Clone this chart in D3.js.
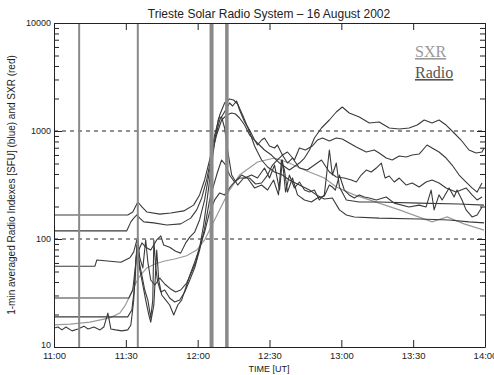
<!DOCTYPE html>
<html><head><meta charset="utf-8">
<script src="https://cdn.jsdelivr.net/npm/d3@7"></script>
<style>
html,body{margin:0;padding:0;background:#fff;}
svg{display:block;}
</style></head>
<body>
<svg id="chart" width="494" height="375"></svg>
<script>
// ---- DATA (time = minutes after 11:00 UT, value in SFU) ----
const title = "Trieste Solar Radio System \u2013 16 August 2002";
const yLabel = "1-min averaged Radio Indexes [SFU] (blue) and SXR (red)";
const xLabel = "TIME [UT]";
const yTickLabels = [10, 100, 1000, 10000];
const xTickLabels = ["11:00","11:30","12:00","12:30","13:00","13:30","14:00"];
const dashedLevels = [100, 1000];
const markerTimes = [10.5, 35, 65.8, 72.2];
const markerWidths = [2, 2, 4, 3.5];

const radio1 = [[0,167],[30.8,167],[32.9,178],[35,220],[36.7,198],[38.75,178],[44.2,170],[48.75,174],[54.2,182],[58.3,206],[60.8,256],[62.9,352],[65,539],[67.1,918],[69.2,1406],[71.25,1816],[73.3,1979],[75,1936],[76.7,1778],[78.75,1406],[81.7,979],[83.75,726],[86.7,539],[89.2,464],[92.1,417],[95.4,391],[98.3,352],[102.5,316],[106.7,284],[109.6,256],[112.9,235],[116.25,240],[119.2,186],[122.1,167],[125.4,160],[135.8,156],[152.5,153],[165,150],[173.3,144],[179.6,141]];
const radio2 = [[0,119],[30.4,119],[32.1,144],[33.3,156],[34.6,167],[35.8,156],[37.5,144],[41.7,141],[47.1,135],[52.9,138],[57.1,156],[59.6,186],[61.7,240],[63.75,352],[65.8,599],[67.9,918],[70,1264],[72.1,1406],[74.2,1468],[75.8,1437],[77.5,1319],[79.6,1136],[81.7,918],[83.75,825],[85.8,742],[87.9,667],[90.8,599],[94.2,505],[98.3,435],[102.5,505],[104.6,562],[106.7,667],[108.75,861],[111.7,1066],[115,1264],[117.9,1499],[120.4,1668],[123.3,1468],[127.5,1348],[131.7,1186],[135.8,1212],[140,1066],[144.2,1043],[148.3,1066],[151.7,1136],[154.6,1264],[157.9,1186],[160.8,1264],[163.75,1136],[167.1,958],[170,825],[173.3,667],[176.25,626],[178.75,639],[179.6,696]];
const radio3 = [[0,56],[17.1,56],[17.9,64],[27.9,61],[31.7,67],[33.3,76],[34.6,98],[35.4,79],[36.7,92],[38.3,84],[40.4,79],[42.9,98],[44.6,107],[45.8,88],[48.3,84],[50.8,77],[52.9,74],[55,92],[56.7,104],[58.75,116],[60.8,150],[62.9,230],[65,435],[67.1,825],[69.2,1264],[71.7,1565],[73.3,1816],[74.6,1704],[76.25,1896],[77.5,1565],[79.6,1212],[81.7,1022],[83.75,825],[85,742],[86.7,825],[87.9,861],[90,726],[92.1,696],[93.3,742],[95.4,599],[97.5,639],[100.4,539],[102.5,696],[105,667],[107.9,726],[110,825],[112.1,861],[115,808],[117.9,861],[120.4,843],[123.3,774],[126.25,711],[130.4,639],[133.75,667],[135.8,626],[138.75,562],[141.25,539],[144.2,587],[147.1,574],[149.6,599],[152.5,612],[155.8,742],[157.9,696],[160.8,639],[163.75,562],[166.25,484],[169.2,391],[172.1,337],[174.6,297],[176.7,272],[178.75,330]];
const radio4 = [[0,28.4],[31.25,28.4],[32.9,33.7],[34.2,61],[35,102],[35.8,67],[37.1,54],[38.3,98],[39.2,61],[40.4,41.7],[42.1,37.5],[44.2,43.5],[46.25,38.3],[48.75,34.4],[50.8,32.3],[52.9,33.7],[55.4,39.1],[57.5,49.5],[59.2,61],[60.8,83],[62.5,135],[64.2,256],[65.8,484],[67.5,918],[68.75,1319],[70,1348],[71.25,1066],[72.5,667],[74.2,391],[76.7,316],[79.2,367],[81.7,367],[84.2,323],[86.7,330],[89.2,391],[91.25,484],[93.3,539],[95.4,599],[97.5,505],[99.6,562],[102.5,454],[105.8,435],[108.75,484],[111.7,539],[115,417],[117.9,375],[121.25,367],[124.2,352],[126.25,337],[128.3,391],[130.4,435],[132.5,417],[134.6,454],[136.7,505],[138.3,367],[140,383],[142.1,337],[144.2,367],[147.1,316],[149.6,330],[152.5,303],[155.4,337],[157.9,352],[160.8,330],[163.75,297],[167.9,272],[172.1,297],[174.6,256],[176.7,230],[178.75,245]];
const radio5 = [[0,19],[30.8,19],[32.5,22],[33.75,37.5],[34.6,88],[35.4,64],[36.7,46],[37.9,33.7],[39.2,27.2],[40.4,18.6],[41.25,27.2],[41.7,98],[42.5,54],[43.3,40],[44.6,32.3],[46.25,33.7],[48.3,28.4],[50.4,26.1],[52.5,27.2],[54.6,32.3],[56.7,41.7],[58.75,54],[60.8,79],[62.9,126],[65,230],[66.7,316],[68.3,417],[70,539],[71.7,484],[73.3,391],[75.4,337],[77.5,367],[79.6,367],[82.5,391],[85,367],[87.9,454],[90,367],[92.1,484],[94.2,284],[95.4,539],[96.7,272],[98.3,391],[100.4,297],[102.5,337],[104.6,284],[106.7,272],[108.75,284],[110.8,230],[112.9,256],[115,667],[116.25,391],[117.9,505],[119.2,303],[122.1,230],[127.5,220],[135.8,220],[152.5,215],[169.2,211],[179.6,206]];
const radio6 = [[0,15],[1.7,15.3],[3.3,14.4],[5,15.3],[7.5,14.1],[10,14.7],[12.5,15.6],[14.2,14.7],[16.7,15.3],[19.2,14.4],[20.8,15.3],[22.5,20.6],[23.75,14.7],[25.8,14.4],[28.3,14.1],[30.8,14.4],[32.1,16],[33.3,27.2],[34.2,64],[35,88],[35.8,52],[37.1,37.5],[38.3,27.2],[39.6,19.8],[40.4,17],[41.7,24.5],[42.9,79],[43.75,41.7],[45,30.3],[46.7,27.2],[48.3,24.5],[50,19.8],[51.7,24.5],[53.3,27.2],[55,35.2],[56.7,46],[58.75,61],[60.8,83],[62.9,116],[65,178],[67.1,230],[69.2,267],[71.25,256],[74.2,316],[78.3,391],[80.8,367],[83.75,297],[86.7,316],[89.2,284],[91.7,352],[93.75,256],[95,539],[96.25,435],[97.5,272],[99.6,367],[101.7,256],[104.6,230],[107.5,220],[110,240],[112.9,250],[115,316],[116.25,303],[117.5,284],[119.2,391],[121.25,284],[123.3,256],[125.4,240],[127.5,256],[129.6,245],[131.7,240],[134.6,230],[138.75,245],[142.1,215],[148.3,198],[152.5,206],[155.4,198],[157.5,284],[158.75,186],[160.8,256],[162.1,230],[165,297],[167.1,245],[168.3,284],[170.4,230],[172.1,186],[174.6,160],[176.7,167],[178.75,198]];
const sxr = [[0,16],[6.7,16.3],[15,17],[23.3,18.6],[27.5,20.6],[29.6,24],[31.7,29.7],[33.75,37.5],[35.8,45.4],[38.75,54],[42.1,58.7],[46.25,62.6],[50.4,65.3],[55.4,70],[59.6,79],[62.9,98],[73.3,284],[77.5,391],[85,516],[92.1,562],[98.3,505],[104.6,435],[112.9,367],[117.9,303],[125.4,256],[131.7,230],[144.2,186],[157.9,144],[164.2,160],[171.25,138],[179.6,121]];

const radioSeries = [radio1, radio2, radio3, radio4, radio5, radio6];

// ---- LAYOUT ----
const svg = d3.select("#chart");
const plot = {left: 54, right: 485, top: 23, bottom: 347};
const START = Date.UTC(2002, 7, 16, 11, 0, 0);
const toDate = m => new Date(START + m * 60000);

const x = d3.scaleUtc().domain([toDate(0), toDate(180)]).range([plot.left, plot.right]);
const y = d3.scaleLog().domain([10, 10000]).range([plot.bottom, plot.top]);

const font = "'Liberation Sans', Arial, sans-serif";

// dashed levels
svg.append("g").selectAll("line").data(dashedLevels).join("line")
  .attr("x1", plot.left).attr("x2", plot.right)
  .attr("y1", d => y(d)).attr("y2", d => y(d))
  .attr("stroke", "#222").attr("stroke-width", 1).attr("stroke-dasharray", "4,4");

// lines
const line = d3.line().x(d => x(toDate(d[0]))).y(d => y(d[1]));
svg.append("clipPath").attr("id", "clip").append("rect")
  .attr("x", plot.left).attr("y", plot.top).attr("width", plot.right - plot.left).attr("height", plot.bottom - plot.top);

svg.append("path").datum(sxr).attr("d", line).attr("fill", "none")
  .attr("stroke", "#9a9a9a").attr("stroke-width", 1.2).attr("clip-path", "url(#clip)");

svg.append("g").selectAll("path").data(radioSeries).join("path")
  .attr("d", line).attr("fill", "none")
  .attr("stroke", "#3a3a3a").attr("stroke-width", 1.1).attr("stroke-linejoin", "round")
  .attr("clip-path", "url(#clip)");

// marker verticals
svg.append("g").selectAll("line").data(markerTimes).join("line")
  .attr("x1", d => x(toDate(d))).attr("x2", d => x(toDate(d)))
  .attr("y1", plot.top).attr("y2", plot.bottom)
  .attr("stroke", "#8a8a8a").attr("stroke-width", (d, i) => markerWidths[i]);

// axes
const xTicks = xTickLabels.map((s, i) => toDate(i * 30));
const allY = y.ticks();
const isMajor = v => Math.abs(Math.log10(v) - Math.round(Math.log10(v))) < 1e-9;

const gB = svg.append("g").attr("transform", `translate(0,${plot.bottom})`)
  .call(d3.axisBottom(x).tickValues(xTicks).tickFormat((d, i) => xTickLabels[i]).tickSizeInner(-7).tickSizeOuter(0).tickPadding(5));
const gT = svg.append("g").attr("transform", `translate(0,${plot.top})`)
  .call(d3.axisTop(x).tickValues(xTicks).tickFormat("").tickSizeInner(-7).tickSizeOuter(0));
const gL = svg.append("g").attr("transform", `translate(${plot.left},0)`)
  .call(d3.axisLeft(y).tickValues(allY).tickFormat(d => isMajor(d) ? String(d) : "").tickSizeInner(-5).tickSizeOuter(0).tickPadding(3));
gL.selectAll(".tick line").attr("x2", d => isMajor(d) ? 8 : 5);
gL.selectAll(".tick text").attr("dy", d => d === 10 ? "0.1em" : "0.32em");
const gR = svg.append("g").attr("transform", `translate(${plot.right},0)`)
  .call(d3.axisRight(y).tickValues(allY).tickFormat("").tickSizeInner(-5).tickSizeOuter(0));
gR.selectAll(".tick line").attr("x2", d => isMajor(d) ? -8 : -5);

[gB, gT, gL, gR].forEach(g => {
  g.select(".domain").attr("stroke", "#222");
  g.selectAll(".tick line").attr("stroke", "#222");
  g.selectAll("text").attr("font-family", font).attr("font-size", 9).attr("fill", "#222");
});
gB.selectAll("text").attr("font-size", 9.5);

// title & labels
svg.append("text").attr("x", 269).attr("y", 18).attr("text-anchor", "middle")
  .attr("font-family", font).attr("font-size", 12).attr("fill", "#222").text(title);
svg.append("text").attr("x", 269).attr("y", 372).attr("text-anchor", "middle")
  .attr("font-family", font).attr("font-size", 9).attr("fill", "#222").text(xLabel);
svg.append("text").attr("transform", "translate(15,185) rotate(-90)").attr("text-anchor", "middle")
  .attr("font-family", font).attr("font-size", 10).attr("fill", "#222").text(yLabel);

// legend
const legend = [{label: "SXR", color: "#9a9a9a", yy: 57}, {label: "Radio", color: "#555", yy: 78}];
svg.append("g").selectAll("text").data(legend).join("text")
  .attr("x", 415).attr("y", d => d.yy)
  .attr("font-family", "'Liberation Serif', 'Times New Roman', serif").attr("font-size", 16)
  .attr("fill", d => d.color).attr("text-decoration", "underline").text(d => d.label);
</script>
</body></html>
